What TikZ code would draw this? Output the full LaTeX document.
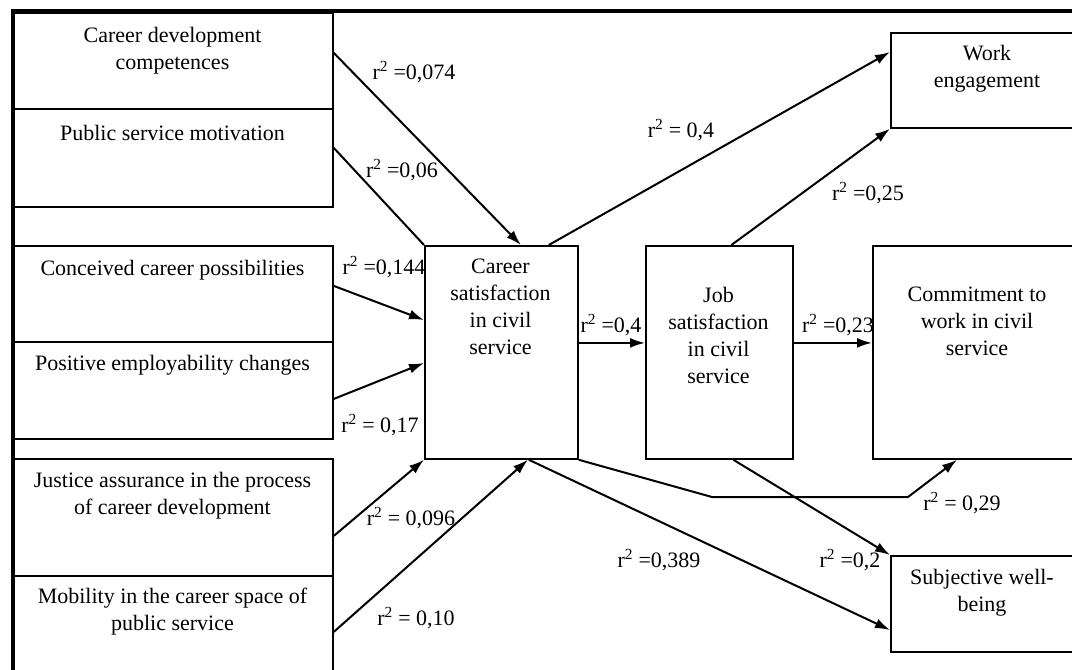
\documentclass[tikz,border=0pt]{standalone}
\usepackage{fontspec}
\setmainfont{Liberation Serif}
\usetikzlibrary{positioning, arrows.meta}
\newcommand{\boxfont}{\fontsize{22}{27}\selectfont}
\tikzset{
    factor/.style = {rectangle, draw = black, line width = 1.8pt, anchor = north west, inner sep = 0pt},
    caption/.style = {align = center, inner sep = 0pt, font = \boxfont},
    coef/.style = {inner sep = 0pt, font = \boxfont},
    link/.style = {-{Latex[length = 15pt, width = 10pt]}, line width = 2pt},
    bare/.style = {line width = 2pt},
    outline/.style = {line width = 4pt}
}

\begin{document}
\begin{tikzpicture}[x = 1pt, y = -1pt]
    \useasboundingbox (0,0) rectangle (1072,670);
    \clip (0,0) rectangle (1072,670);
    % predictors
    \node [factor, minimum width = 319pt, minimum height = 96pt] (cdc) at (13,12) {};
    \node [factor, minimum width = 319pt, minimum height = 98pt] (psm) at (13,108) {};
    \node [factor, minimum width = 319pt, minimum height = 96pt] (ccp) at (13,245) {};
    \node [factor, minimum width = 319pt, minimum height = 97pt] (pec) at (13,341) {};
    \node [factor, minimum width = 319pt, minimum height = 117pt] (jus) at (13,458) {};
    \node [factor, minimum width = 319pt, minimum height = 125pt] (mob) at (13,575) {};
    % mediators
    \node [factor, minimum width = 153pt, minimum height = 213pt] (csat) at (424,245) {};
    \node [factor, minimum width = 147pt, minimum height = 213pt] (jsat) at (645,245) {};
    % outcomes
    \node [factor, minimum width = 230pt, minimum height = 95pt] (weng) at (890,32) {};
    \node [factor, minimum width = 250pt, minimum height = 213pt] (comm) at (872,245) {};
    \node [factor, minimum width = 230pt, minimum height = 96pt] (swb) at (890,555) {};
    % texts
    \node [caption] (cdc-t) at (172.5,50.5) {Career development\\competences};
    \node [caption] (psm-t) at (172.5,133) {Public service motivation};
    \node [caption] (ccp-t) at (172.5,270) {Conceived career possibilities};
    \node [caption] (pec-t) at (172.5,365) {Positive employability changes};
    \node [caption] (jus-t) at (172.5,495.5) {Justice assurance in the process\\of career development};
    \node [caption] (mob-t) at (172.5,611.5) {Mobility in the career space of\\public service};
    \node [caption] (csat-t) at (500.5,307) {Career\\satisfaction\\in civil\\service};
    \node [caption] (jsat-t) at (718.5,335.5) {Job\\satisfaction\\in civil\\service};
    \node [caption] (weng-t) at (987,68.5) {Work\\engagement};
    \node [caption] (comm-t) at (977,321) {Commitment to\\work in civil\\service};
    \node [caption] (swb-t) at (982,592.5) {Subjective well-\\being};
    % links
    \draw [link] ([yshift = 8pt]cdc.east) -- ([xshift = 19.5pt]csat.north);
    \draw [bare] ([yshift = 10pt]psm.east) -- (csat.north west);
    \draw [link] ([yshift = 8pt]ccp.east) -- ([yshift = -75pt]csat.north west);
    \draw [link] ([yshift = -8.5pt]pec.east) -- ([yshift = -118pt]csat.north west);
    \draw [link] ([yshift = -18.5pt]jus.east) -- (csat.south west);
    \draw [link] ([yshift = 6.5pt]mob.east) -- ([xshift = 26.5pt]csat.south);
    \draw [link] ([xshift = -30pt]csat.north east) -- ([yshift = -20pt]weng.north west);
    \draw [link] ([yshift = 9.5pt]csat.east) -- ([yshift = 9.5pt]jsat.west);
    \draw [link] ([xshift = 12pt]jsat.north) -- (weng.south west);
    \draw [link] ([yshift = 9.5pt]jsat.east) -- ([yshift = 9.5pt]comm.west);
    \coordinate (k1) at (712,497);
    \coordinate (k2) at (908,497);
    \draw [link] (csat.south east) -- (k1) -- (k2) -- ([xshift = 85pt]comm.south west);
    \draw [link] ([xshift = 27.5pt]csat.south) -- ([yshift = -75pt]swb.north west);
    \draw [link] ([xshift = 14pt]jsat.south) -- (swb.north west);
    % coefficients
    \node [coef] (r-cdc) at (414,72) {r\textsuperscript{2} =0,074};
    \node [coef] (r-psm) at (402,170) {r\textsuperscript{2} =0,06};
    \node [coef] (r-ccp) at (384,267) {r\textsuperscript{2} =0,144};
    \node [coef] (r-pec) at (380,425) {r\textsuperscript{2} = 0,17};
    \node [coef] (r-jus) at (411,518) {r\textsuperscript{2} = 0,096};
    \node [coef] (r-mob) at (416,618) {r\textsuperscript{2} = 0,10};
    \node [coef] (r-cw) at (681,130) {r\textsuperscript{2} = 0,4};
    \node [coef] (r-cj) at (611,325) {r\textsuperscript{2} =0,4};
    \node [coef] (r-jw) at (868,193) {r\textsuperscript{2} =0,25};
    \node [coef] (r-jc) at (838,325) {r\textsuperscript{2} =0,23};
    \node [coef] (r-cc) at (962,503) {r\textsuperscript{2} = 0,29};
    \node [coef] (r-cs) at (659,560) {r\textsuperscript{2} =0,389};
    \node [coef] (r-js) at (850,560) {r\textsuperscript{2} =0,2};
    % frame
    \draw [outline] (11,11) -- (1100,11);
    \draw [outline] (13,9) -- (13,700);
\end{tikzpicture}
\end{document}
